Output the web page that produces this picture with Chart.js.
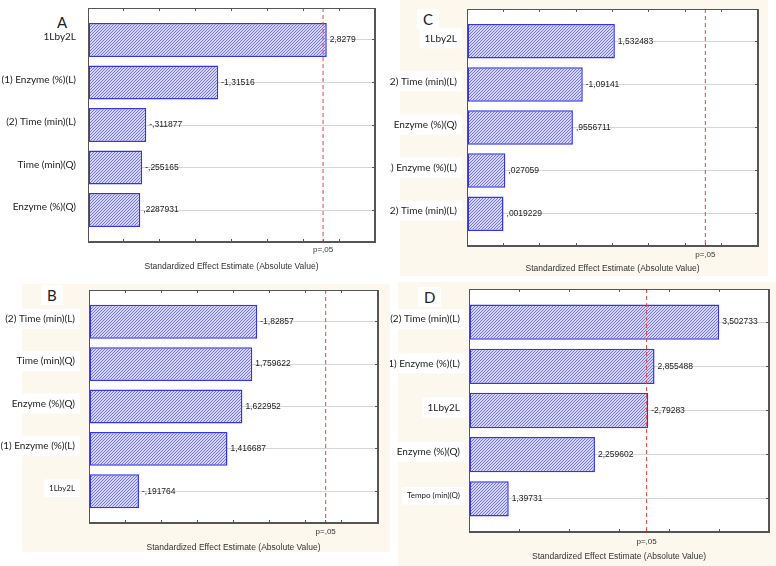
<!DOCTYPE html>
<html>
<head>
<meta charset="utf-8">
<script src="https://cdn.jsdelivr.net/npm/chart.js@4.4.1/dist/chart.umd.min.js"></script>
<style>
  body { margin: 0; width: 776px; height: 566px; position: relative; background: #fff; overflow: hidden; }
  .bg { position: absolute; background: #fdf8ee; }
  .panel { position: absolute; }
  .letter { position: absolute; font-family: Lato, sans-serif; font-size: 15px; color: #222; background: #fff; padding: 1px 6px; line-height: 18px; }
</style>
</head>
<body>
<div class="bg" style="left:400px;top:0;width:368px;height:276px"></div>
<div class="bg" style="left:22px;top:284px;width:368px;height:268px"></div>
<div class="bg" style="left:398px;top:282px;width:378px;height:284px"></div>

<div class="panel" style="left:0;top:0;width:388px;height:278px"><canvas id="chartA"></canvas></div>
<div class="panel" style="left:390px;top:0;width:386px;height:278px"><canvas id="chartC"></canvas></div>
<div class="panel" style="left:0;top:280px;width:388px;height:276px"><canvas id="chartB"></canvas></div>
<div class="panel" style="left:390px;top:280px;width:386px;height:286px"><canvas id="chartD"></canvas></div>

<div class="letter" style="left:51px;top:12px">A</div>
<div class="letter" style="left:417px;top:9px">C</div>
<div class="letter" style="left:41px;top:285px">B</div>
<div class="letter" style="left:418px;top:287px">D</div>

<script>
// Pareto charts of standardized effects, four runs (A-D)
const labelsA = ['1Lby2L', '(1) Enzyme (%)(L)', '(2) Time (min)(L)', 'Time (min)(Q)', 'Enzyme (%)(Q)'];
const effectsA = [2.8279, -1.31516, -0.311877, -0.255165, 0.2287931];

const labelsB = ['(2) Time (min)(L)', 'Time (min)(Q)', 'Enzyme (%)(Q)', '(1) Enzyme (%)(L)', '1Lby2L'];
const effectsB = [-1.82857, 1.759622, 1.622952, 1.416687, -0.191764];

const labelsC = ['1Lby2L', '(2) Time (min)(L)', 'Enzyme (%)(Q)', '(1) Enzyme (%)(L)', '(2) Time (min)(L)'];
const effectsC = [1.532483, -1.09141, 0.9556711, 0.027059, 0.0019229];

const labelsD = ['(2) Time (min)(L)', '(1) Enzyme (%)(L)', '1Lby2L', 'Enzyme (%)(Q)', 'Tempo (min)(Q)'];
const effectsD = [3.502733, 2.855488, -2.79283, 2.259602, 1.39731];

const critical = 2.776; // p=,05
const pLabel = 'p=,05';
const axisTitle = 'Standardized Effect Estimate (Absolute Value)';

// statistica style number: comma decimal, no leading zero
function fmt(v) {
    return String(v).replace('.', ',').replace(/^(-?)0,/, '$1,');
}

function hatch() {
    const c = document.createElement('canvas');
    c.width = 3; c.height = 3;
    const g = c.getContext('2d');
    g.fillStyle = '#d6d6fb';
    g.fillRect(0, 0, 3, 3);
    g.strokeStyle = '#6a6ae8';
    g.lineWidth = 0.9;
    g.beginPath();
    g.moveTo(0, 3); g.lineTo(3, 0);
    g.moveTo(-1, 1); g.lineTo(1, -1);
    g.moveTo(2, 4); g.lineTo(4, 2);
    g.stroke();
    return g.createPattern(c, 'repeat');
}

const paretoPlugin = {
    id: 'pareto',
    beforeDraw(chart) {
        const a = chart.chartArea, ctx = chart.ctx;
        ctx.save();
        ctx.fillStyle = '#fff';
        ctx.fillRect(a.left, a.top, a.right - a.left, a.bottom - a.top);
        ctx.restore();
    },
    afterDatasetsDraw(chart) {
        const a = chart.chartArea, ctx = chart.ctx;
        const x = chart.scales.x.getPixelForValue(critical);
        ctx.save();
        ctx.strokeStyle = '#e8453c';
        ctx.lineWidth = 1;
        ctx.setLineDash([4, 3]);
        ctx.beginPath();
        ctx.moveTo(x, a.top);
        ctx.lineTo(x, a.bottom);
        ctx.stroke();
        ctx.setLineDash([]);

        const effects = chart.data.datasets[0].effects;
        ctx.fillStyle = '#222';
        ctx.font = "8.5px 'Liberation Sans', Arial, sans-serif";
        ctx.textBaseline = 'middle';
        chart.getDatasetMeta(0).data.forEach((bar, i) => {
            ctx.fillText(fmt(effects[i]), bar.x + 3, bar.y);
        });

        ctx.strokeStyle = '#555';
        ctx.strokeRect(a.left + 0.5, a.top + 0.5, a.right - a.left - 1, a.bottom - a.top - 1);
        ctx.restore();
    }
};

function makeChart(id, labels, effects, xMin, xMax, box) {
    // fresh tick objects for each axis, so labels are not shared
    const xTicks = () => {
        const t = [];
        for (let v = xMin; v <= xMax + 1e-9; v += 0.5) t.push({ value: v });
        return t;
    };
    const catTicks = () => labels.map((_, i) => ({ value: i + 1 }));
    const noPad = s => { s.paddingTop = 0; s.paddingBottom = 0; s.paddingLeft = 0; s.paddingRight = 0; };
    const frame = '#555';

    new Chart(document.getElementById(id), {
        type: 'bar',
        data: {
            datasets: [{
                data: effects.map((v, i) => ({ x: Math.abs(v), y: i + 1 })),
                effects: effects,
                base: xMin,
                backgroundColor: hatch(),
                borderColor: '#3535e6',
                borderWidth: 1.5,
                borderSkipped: false,
                categoryPercentage: 1,
                barPercentage: 0.8
            }]
        },
        options: {
            indexAxis: 'y',
            responsive: true,
            maintainAspectRatio: false,
            animation: false,
            layout: { padding: { top: box.top, right: box.right, left: 0, bottom: 0 } },
            plugins: { legend: { display: false }, tooltip: { enabled: false } },
            scales: {
                x: {
                    type: 'linear', position: 'bottom', min: xMin, max: xMax, offset: false,
                    afterBuildTicks: s => { s.ticks = xTicks().concat([{ value: critical }]); },
                    afterFit: s => { s.height = box.xh; noPad(s); },
                    ticks: {
                        autoSkip: false, maxRotation: 0, padding: box.tp, color: '#333',
                        font: { family: "'Liberation Sans', Arial, sans-serif", size: 8 },
                        callback: v => (Math.abs(v - critical) < 1e-6 ? pLabel : '')
                    },
                    grid: { drawOnChartArea: false, offset: false, tickLength: -3, color: frame },
                    border: { color: frame },
                    title: {
                        display: true, text: axisTitle, color: '#333',
                        font: { family: "'Liberation Sans', Arial, sans-serif", size: 8.5 },
                        padding: { top: 0, bottom: box.ttl }
                    }
                },
                x2: {
                    type: 'linear', position: 'top', min: xMin, max: xMax, offset: false,
                    afterBuildTicks: s => { s.ticks = xTicks(); },
                    afterFit: s => { s.height = 0; noPad(s); },
                    ticks: { display: false },
                    grid: { drawOnChartArea: false, offset: false, tickLength: -3, color: frame },
                    border: { color: frame }
                },
                y: {
                    type: 'linear', reverse: true, min: 0.25, max: 5.75, offset: false,
                    afterBuildTicks: s => { s.ticks = catTicks(); },
                    afterFit: s => { s.width = box.yw; noPad(s); },
                    ticks: {
                        autoSkip: false, padding: box.lp, labelOffset: -3, color: '#222',
                        font: c => ({ family: 'Lato, sans-serif', size: box.small.includes(c.index) ? 8 : 10 }),
                        showLabelBackdrop: true, backdropColor: '#fff', backdropPadding: { x: 5, y: 4 },
                        callback: (v, i) => labels[i]
                    },
                    grid: { color: '#d6d6d6', offset: false, drawTicks: false },
                    border: { color: frame }
                },
                y2: {
                    type: 'linear', position: 'right', reverse: true, min: 0.25, max: 5.75, offset: false,
                    afterBuildTicks: s => { s.ticks = catTicks(); },
                    afterFit: s => { s.width = 0; noPad(s); },
                    ticks: { display: false },
                    grid: { drawOnChartArea: false, offset: false, tickLength: -3, color: frame },
                    border: { color: frame }
                }
            }
        },
        plugins: [paretoPlugin]
    });
}

makeChart('chartA', labelsA, effectsA, -0.5, 3.5, { top: 8, right: 13, yw: 88, xh: 36, tp: 6, ttl: 6, lp: 12, small: [] });
makeChart('chartC', labelsC, effectsC, -0.5, 3.5, { top: 9, right: 18, yw: 77, xh: 32, tp: 7, ttl: 4, lp: 10, small: [] });
makeChart('chartB', labelsB, effectsB, -0.5, 3.5, { top: 10, right: 10, yw: 89, xh: 33, tp: 7, ttl: 3, lp: 14, small: [4] });
makeChart('chartD', labelsD, effectsD, 1, 4, { top: 9, right: 7, yw: 79, xh: 34, tp: 8, ttl: 4, lp: 9, small: [4] });
</script>
</body>
</html>
